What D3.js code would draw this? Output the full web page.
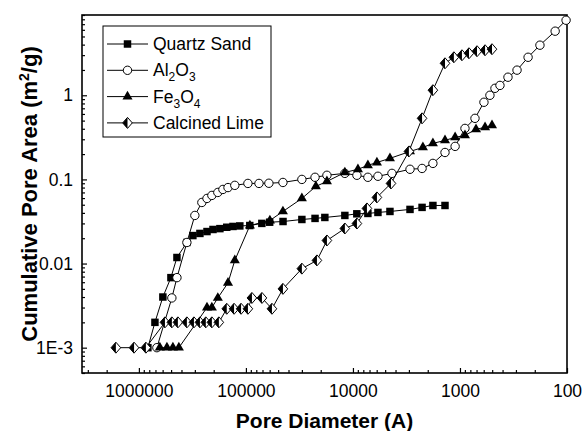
<!DOCTYPE html>
<html>
<head>
<meta charset="utf-8">
<script src="https://cdn.jsdelivr.net/npm/d3@7"></script>
<style>
  body { margin: 0; background: #fff; }
  svg text { font-family: Arial, "Liberation Sans", sans-serif; fill: #000; }
</style>
</head>
<body>
<svg id="chart" width="584" height="431"></svg>
<script>
// pore diameter (A), cumulative pore area (m2/g)
var quartzSand = [
  [824000, 0.001], [708000, 0.002], [597000, 0.004], [502000, 0.0068], [441000, 0.0118],
  [356000, 0.0178], [313000, 0.0215], [269000, 0.0228], [231000, 0.024], [203000, 0.0254],
  [175000, 0.026], [151000, 0.027], [132000, 0.0276], [114000, 0.028], [92000, 0.0283],
  [71000, 0.03], [60000, 0.031], [45000, 0.0316], [30000, 0.0334], [22600, 0.0344],
  [18300, 0.0353], [11900, 0.0373], [9200, 0.039], [7250, 0.0394], [5840, 0.0405],
  [4510, 0.0416], [2930, 0.044], [2260, 0.0465], [1790, 0.049], [1380, 0.049]
];
var al2o3 = [
  [679000, 0.001], [492000, 0.0039], [441000, 0.0068], [356000, 0.0178], [300000, 0.0373],
  [258000, 0.0532], [231000, 0.0594], [208000, 0.0645], [183000, 0.07], [164000, 0.076],
  [147000, 0.08], [127000, 0.085], [95800, 0.0896], [75500, 0.0896], [61000, 0.09],
  [45100, 0.092], [30000, 0.1], [22600, 0.106], [17500, 0.112], [11900, 0.118],
  [9180, 0.112], [7250, 0.106], [5840, 0.109], [4320, 0.118], [2930, 0.132],
  [2260, 0.135], [1790, 0.155], [1380, 0.209], [1110, 0.247], [898, 0.404],
  [724, 0.532], [597, 0.826], [525, 1.0], [471, 1.21], [423, 1.31],
  [356, 1.64], [293, 1.99], [231, 2.83], [179, 3.94], [129, 5.78], [102, 7.8]
];
var fe3o4 = [
  [637000, 0.001], [547000, 0.001], [481000, 0.001], [423000, 0.001], [231000, 0.003],
  [208000, 0.003], [183000, 0.0039], [147000, 0.0059], [127000, 0.0109], [91800, 0.0283],
  [59700, 0.0325], [45100, 0.0416], [30000, 0.0594], [22200, 0.0826], [17500, 0.0946],
  [11900, 0.121], [8980, 0.132], [7250, 0.147], [5970, 0.159], [4510, 0.178],
  [2930, 0.215], [2220, 0.24], [1790, 0.268], [1380, 0.291], [1110, 0.316],
  [898, 0.334], [708, 0.394], [583, 0.416], [502, 0.44]
];
var calcinedLime = [
  [1640000, 0.001], [1110000, 0.001], [860000, 0.001], [571000, 0.002], [492000, 0.002],
  [432000, 0.002], [356000, 0.002], [306000, 0.002], [269000, 0.002], [237000, 0.002],
  [208000, 0.002], [179000, 0.002], [151000, 0.0029], [129000, 0.0029], [111000, 0.0029],
  [95800, 0.0029], [87900, 0.0039], [70800, 0.0039], [57100, 0.0029], [45100, 0.005],
  [30000, 0.0087], [21700, 0.0109], [17500, 0.0188], [11900, 0.0261], [9180, 0.0299],
  [7400, 0.0452], [5970, 0.0611], [4410, 0.0896], [3000, 0.215], [2260, 0.532],
  [1790, 1.15], [1380, 2.4], [1140, 2.83], [958, 2.99], [824, 3.16],
  [693, 3.34], [583, 3.43], [502, 3.53]
];

var seriesNames = ["Quartz Sand", "Al2O3", "Fe3O4", "Calcined Lime"];
var xTicks = [1000000, 100000, 10000, 1000, 100];
var xTickLabels = ["1000000", "100000", "10000", "1000", "100"];
var yTicks = [0.001, 0.01, 0.1, 1];
var yTickLabels = ["1E-3", "0.01", "0.1", "1"];

var W = 584, H = 431;
var margin = {left: 82, right: 17, top: 15, bottom: 58};

var svg = d3.select("#chart");

var x = d3.scaleLog().domain([3.4e6, 100]).range([margin.left, W - margin.right]);
var y = d3.scaleLog().domain([5e-4, 9]).range([H - margin.bottom, margin.top]);

// minor ticks 2..9 of every decade inside the domain
function minors(lo, hi) {
  var out = [];
  for (var e = Math.floor(Math.log10(lo)); e <= Math.ceil(Math.log10(hi)); e++) {
    for (var m = 2; m <= 9; m++) {
      var v = m * Math.pow(10, e);
      if (v >= lo * 0.999 && v <= hi * 1.001) out.push(v);
    }
  }
  return out;
}

var tickFont = "17.5px";

// x axis
svg.append("g")
  .attr("transform", "translate(0," + (H - margin.bottom) + ")")
  .call(d3.axisBottom(x).tickValues(minors(100, 3.4e6)).tickSize(-3).tickFormat(""))
  .call(function(g) { g.select(".domain").remove(); });

svg.append("g")
  .attr("transform", "translate(0," + (H - margin.bottom) + ")")
  .call(d3.axisBottom(x).tickValues(xTicks).tickSize(-5).tickPadding(12)
    .tickFormat(function(d, i) { return xTickLabels[i]; }))
  .call(function(g) {
    g.select(".domain").remove();
    g.selectAll("text").style("font-size", tickFont);
  });

// y axis
svg.append("g")
  .attr("transform", "translate(" + margin.left + ",0)")
  .call(d3.axisLeft(y).tickValues(minors(5e-4, 9)).tickSize(-3).tickFormat(""))
  .call(function(g) { g.select(".domain").remove(); });

svg.append("g")
  .attr("transform", "translate(" + margin.left + ",0)")
  .call(d3.axisLeft(y).tickValues(yTicks).tickSize(-5).tickPadding(9)
    .tickFormat(function(d, i) { return yTickLabels[i]; }))
  .call(function(g) {
    g.select(".domain").remove();
    g.selectAll("text").style("font-size", tickFont);
  });

svg.selectAll(".tick line").attr("stroke", "#000").attr("stroke-width", 1.2);

// frame
svg.append("rect")
  .attr("x", margin.left).attr("y", margin.top)
  .attr("width", W - margin.left - margin.right)
  .attr("height", H - margin.top - margin.bottom)
  .attr("fill", "none").attr("stroke", "#000").attr("stroke-width", 1.6);

// markers
var sq = d3.symbol().type(d3.symbolSquare).size(56);
var tri = d3.symbol().type(d3.symbolTriangle).size(44);

function drawMarker(g, kind) {
  if (kind == 0) {
    g.append("path").attr("d", sq()).attr("fill", "#000");
  } else if (kind == 1) {
    g.append("circle").attr("r", 4.2).attr("fill", "#fff").attr("stroke", "#000").attr("stroke-width", 1);
  } else if (kind == 2) {
    g.append("path").attr("d", tri()).attr("fill", "#000");
  } else {
    g.append("path").attr("d", "M0,-5.5L4.8,0L0,5.5L-4.8,0Z").attr("fill", "#fff").attr("stroke", "#000").attr("stroke-width", 1);
    g.append("path").attr("d", "M0,-5.5L0,5.5L-4.8,0Z").attr("fill", "#000");
  }
}

var line = d3.line().x(function(d) { return x(d[0]); }).y(function(d) { return y(d[1]); });
var allSeries = [quartzSand, al2o3, fe3o4, calcinedLime];

allSeries.forEach(function(data, k) {
  svg.append("path").datum(data)
    .attr("d", line)
    .attr("fill", "none").attr("stroke", "#000").attr("stroke-width", 1);
  svg.append("g").selectAll("g").data(data).enter().append("g")
    .attr("transform", function(d) { return "translate(" + x(d[0]) + "," + y(d[1]) + ")"; })
    .each(function() { drawMarker(d3.select(this), k); });
});

// axis titles
svg.append("text")
  .attr("x", (margin.left + W - margin.right) / 2 + 0)
  .attr("y", 428)
  .attr("text-anchor", "middle")
  .style("font-size", "21px").style("font-weight", "bold")
  .text("Pore Diameter (A)");

var yt = svg.append("text")
  .attr("transform", "translate(37," + ((margin.top + H - margin.bottom) / 2) + ") rotate(-90)")
  .attr("text-anchor", "middle")
  .style("font-size", "22px").style("font-weight", "bold");
yt.append("tspan").text("Cumulative Pore Area (m");
yt.append("tspan").attr("dy", -8).style("font-size", "14px").text("2");
yt.append("tspan").attr("dy", 8).text("/g)");

// legend
var leg = svg.append("g");
leg.append("rect")
  .attr("x", 103).attr("y", 26).attr("width", 168).attr("height", 111)
  .attr("fill", "#fff").attr("stroke", "#000").attr("stroke-width", 1);

seriesNames.forEach(function(name, i) {
  var ly = 44 + i * 26.3;
  leg.append("line")
    .attr("x1", 107).attr("x2", 148).attr("y1", ly).attr("y2", ly)
    .attr("stroke", "#000").attr("stroke-width", 1);
  var mg = leg.append("g").attr("transform", "translate(127.5," + ly + ")");
  drawMarker(mg, i);
  var t = leg.append("text").attr("x", 153).attr("y", ly + 6).style("font-size", "17.5px");
  if (name == "Al2O3" || name == "Fe3O4") {
    var parts = name == "Al2O3" ? ["Al", "2", "O", "3"] : ["Fe", "3", "O", "4"];
    t.append("tspan").text(parts[0]);
    t.append("tspan").attr("dy", 5).style("font-size", "12px").text(parts[1]);
    t.append("tspan").attr("dy", -5).text(parts[2]);
    t.append("tspan").attr("dy", 5).style("font-size", "12px").text(parts[3]);
  } else {
    t.text(name);
  }
});
</script>
</body>
</html>
